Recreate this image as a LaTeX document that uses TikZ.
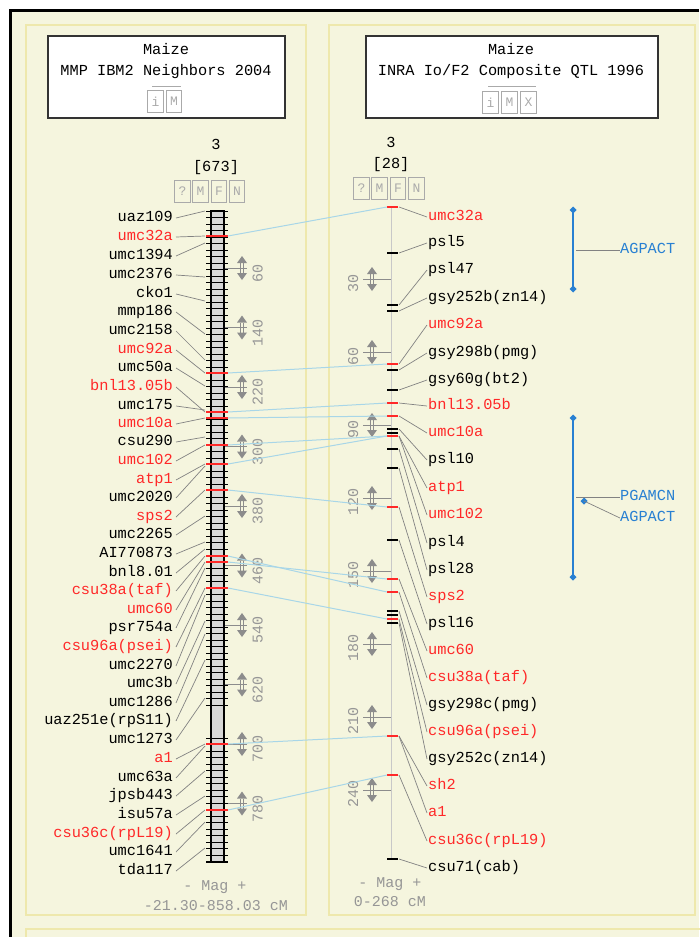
\documentclass[tikz,border=0pt]{standalone}
\usepackage{fontspec}
\setmainfont{Liberation Mono}
\definecolor{bg}{RGB}{245,245,222}
\definecolor{pborder}{RGB}{238,232,172}
\definecolor{leadgray}{RGB}{130,130,130}
\definecolor{connblue}{RGB}{168,214,232}
\definecolor{btngray}{RGB}{170,170,170}
\definecolor{sclgray}{RGB}{140,140,140}
\definecolor{scltext}{RGB}{150,150,150}
\definecolor{mkred}{RGB}{255,40,40}
\definecolor{qblue}{RGB}{40,128,210}
\definecolor{chromgray}{RGB}{215,215,215}
\definecolor{axisgray}{RGB}{200,200,200}
\begin{document}
\begin{tikzpicture}[x=1pt,y=-1pt,
  lbl/.style={font=\fontsize{15.3}{16}\selectfont, inner sep=0pt, text height=8pt, text depth=2pt},
  hdrtext/.style={font=\fontsize{15.3}{16}\selectfont, inner sep=0pt, text height=8pt, text depth=2pt},
  scl/.style={font=\fontsize{15}{16}\selectfont, text=scltext, inner sep=0pt, text height=8pt, text depth=2pt},
  lead/.style={draw=leadgray, line width=0.7pt},
  conn/.style={draw=connblue, line width=1pt},
  btn/.style={draw=btngray, text=btngray, line width=1pt, minimum width=15.5pt, minimum height=22pt, inner sep=0pt, font=\fontsize{13}{13}\selectfont},
  hdrbox/.style={draw=black!80, fill=white, line width=1.2pt, inner sep=0pt},
  panel/.style={draw=pborder, line width=1.5pt},
  magicon/.pic={
    \fill[sclgray] (-5,-5) -- (5,-5) -- (0,-12) -- cycle;
    \fill[sclgray] (-5,5) -- (5,5) -- (0,12) -- cycle;
    \draw[sclgray, line width=0.8pt] (-1.5,-5) -- (-1.5,5) (1.5,-5) -- (1.5,5);
  }
]
\useasboundingbox (0,0) rectangle (699,937);
\fill[white] (0,0) rectangle (699,937);
\fill[bg] (11,11) rectangle (699,937);
\draw[black, line width=3pt] (10.5,937) -- (10.5,10.5) -- (699,10.5);

% panels
\draw[panel] (26,25) rectangle (306,915);
\draw[panel] (329,25) rectangle (695,915);
\draw[panel] (26,929) rectangle (710,960);

% header boxes
\node[hdrbox, minimum width=237pt, minimum height=82pt] (hboxL) at (166.5,77) {};
\node[hdrtext] (hL1) at (166,51) {Maize};
\node[hdrtext] (hL2) at (166,72.5) {MMP IBM2 Neighbors 2004};
\draw[btngray, line width=1pt] (152,86) -- (181,86);
\node[btn] (bLi) at (155.5,101.5) {i};
\node[btn] (bLM) at (174,101.5) {M};

\node[hdrbox, minimum width=292pt, minimum height=82pt] (hboxR) at (512,77) {};
\node[hdrtext] (hR1) at (511,51) {Maize};
\node[hdrtext] (hR2) at (511,72.5) {INRA Io/F2 Composite QTL 1996};
\draw[btngray, line width=1pt] (488,86) -- (536,86);
\node[btn] (bRi) at (490.5,102.5) {i};
\node[btn] (bRM) at (509.5,102.5) {M};
\node[btn] (bRX) at (528.5,102.5) {X};

% chromosome titles
\node[hdrtext] (cL1) at (216,146) {3};
\node[hdrtext] (cL2) at (216,168.5) {[673]};
\node[btn] (cLq) at (182.5,191) {?};
\node[btn] (cLM) at (200.5,191) {M};
\node[btn] (cLF) at (219,191) {F};
\node[btn] (cLN) at (237,191) {N};

\node[hdrtext] (cR1) at (391,144) {3};
\node[hdrtext] (cR2) at (391,165.5) {[28]};
\node[btn] (cRq) at (361.5,188.5) {?};
\node[btn] (cRM) at (379.5,188.5) {M};
\node[btn] (cRF) at (398,188.5) {F};
\node[btn] (cRN) at (416.5,188.5) {N};

% left scale
\foreach \k/\v in {0/60,1/140,2/220,3/300,4/380,5/460,6/540,7/620,8/700,9/780} {
  \pgfmathsetmacro\yy{268+59.5*\k}
  \draw[sclgray, line width=1pt] (224,\yy) -- (247,\yy);
  \pic at (242,\yy) {magicon};
  \node[scl, rotate=90] at (259.5,\yy+5) {\v};
}

% right scale
\foreach \k/\v in {0/30,1/60,2/90,3/120,4/150,5/180,6/210,7/240} {
  \pgfmathsetmacro\yy{279+73*\k}
  \draw[sclgray, line width=1pt] (363,\yy) -- (391,\yy);
  \pic at (372,\yy) {magicon};
  \node[scl, rotate=90] at (355,\yy+4) {\v};
}

% left chromosome bar
\filldraw[fill=chromgray, draw=black, line width=1.3pt] (211,211) rectangle (224,862);
\foreach \yy in {211,217.5,...,705,738,744.5,...,862} {
  \draw[black, line width=1pt] (206,\yy) -- (228,\yy);
}
\draw[black, line width=1.3pt] (206,862) -- (228,862);
\foreach \yy in {236,373,412,418,445,464,490,556,562,588,744,810} {
  \draw[mkred, line width=1.5pt] (206,\yy) -- (228,\yy);
}

% right chromosome
\draw[axisgray, line width=1.5pt] (391.5,207) -- (391.5,860);
\foreach \yy in {253,305,311,370,390,429,433,449,468,540,611,615,623,859} {
  \draw[black, line width=1.3pt] (387,\yy) -- (398,\yy);
}
\foreach \yy in {207,364,403,416,436,507,579,592,619,736,775} {
  \draw[mkred, line width=1.3pt] (387,\yy) -- (398,\yy);
}

% connectors between maps
\foreach \i/\a/\b in {1/236/207,2/373/364,3/412/403,4/418/416,5/445/436,6/464/436,7/490/507,8/556/592,9/562/579,10/588/619,11/744/736,12/810/775} {
  \coordinate (CL\i) at (228,\a);
  \coordinate (CR\i) at (387,\b);
  \draw[conn] (CL\i) -- (CR\i);
}

% left labels
\foreach \i/\lab/\ly/\ty/\col in {
  1/uaz109/218/211/black,
  2/umc32a/237/236/mkred,
  3/umc1394/256/243/black,
  4/umc2376/275/277/black,
  5/cko1/294/301/black,
  6/mmp186/312/334/black,
  7/umc2158/331/360/black,
  8/umc92a/350/373/mkred,
  9/umc50a/368/386/black,
  10/bnl13.05b/387/412/mkred,
  11/umc175/406/410/black,
  12/umc10a/424/418/mkred,
  13/csu290/442/437/black,
  14/umc102/461/445/mkred,
  15/atp1/480/464/mkred,
  16/umc2020/498/466/black,
  17/sps2/517/490/mkred,
  18/umc2265/535/516/black,
  19/AI770873/554/542/black,
  20/bnl8.01/573/549/black,
  21/csu38a(taf)/591/556/mkred,
  22/umc60/610/562/mkred,
  23/psr754a/628/568/black,
  24/csu96a(psei)/647/588/mkred,
  25/umc2270/666/595/black,
  26/umc3b/684/621/black,
  27/umc1286/703/634/black,
  28/uaz251e(rpS11)/721/660/black,
  29/umc1273/740/698/black,
  30/a1/759/744/mkred,
  31/umc63a/778/746/black,
  32/jpsb443/796/771/black,
  33/isu57a/815/796/black,
  34/csu36c(rpL19)/834/810/mkred,
  35/umc1641/852/822/black,
  36/tda117/871/848/black} {
  \node[lbl, text=\col, anchor=east] (L\i) at (173,\ly) {\lab};
  \coordinate (LT\i) at (205,\ty);
  \draw[lead] ([xshift=3pt]L\i.east) -- (LT\i);
}

% right labels
\foreach \i/\lab/\ly/\ty/\col in {
  1/umc32a/217/207/mkred,
  2/psl5/243/253/black,
  3/psl47/270/305/black,
  4/gsy252b(zn14)/298/311/black,
  5/umc92a/325/364/mkred,
  6/gsy298b(pmg)/353/370/black,
  7/gsy60g(bt2)/380/390/black,
  8/bnl13.05b/406/403/mkred,
  9/umc10a/433/416/mkred,
  10/psl10/460/429/black,
  11/atp1/488/436/mkred,
  12/umc102/515/436/mkred,
  13/psl4/543/449/black,
  14/psl28/570/468/black,
  15/sps2/597/507/mkred,
  16/psl16/624/540/black,
  17/umc60/651/579/mkred,
  18/csu38a(taf)/678/592/mkred,
  19/gsy298c(pmg)/705/611/black,
  20/csu96a(psei)/732/619/mkred,
  21/gsy252c(zn14)/759/623/black,
  22/sh2/786/736/mkred,
  23/a1/813/736/mkred,
  24/csu36c(rpL19)/841/775/mkred,
  25/csu71(cab)/868/859/black} {
  \node[lbl, text=\col, anchor=west] (R\i) at (428,\ly) {\lab};
  \coordinate (RT\i) at (399,\ty);
  \draw[lead] (RT\i) -- ([xshift=-1pt]R\i.west);
}

% QTL
\draw[qblue, line width=2pt] (573,210) -- (573,289);
\fill[qblue] (573,206.5) -- (576.5,210) -- (573,213.5) -- (569.5,210) -- cycle;
\fill[qblue] (573,285.5) -- (576.5,289) -- (573,292.5) -- (569.5,289) -- cycle;
\node[lbl, text=qblue, anchor=west] (Q1) at (620,250) {AGPACT};
\coordinate (Q1s) at (576,250);
\draw[lead] (Q1s) -- (Q1.west);

\draw[qblue, line width=2pt] (573,418) -- (573,577);
\fill[qblue] (573,414.5) -- (576.5,418) -- (573,421.5) -- (569.5,418) -- cycle;
\fill[qblue] (573,573.5) -- (576.5,577) -- (573,580.5) -- (569.5,577) -- cycle;
\fill[qblue] (584,497.5) -- (587.5,501) -- (584,504.5) -- (580.5,501) -- cycle;
\node[lbl, text=qblue, anchor=west] (Q2) at (620,497) {PGAMCN};
\node[lbl, text=qblue, anchor=west] (Q3) at (620,518) {AGPACT};
\coordinate (Q2s) at (576,497);
\coordinate (Q3s) at (584,501);
\draw[lead] (Q2s) -- (Q2.west);
\draw[lead] (Q3s) -- (Q3.west);

% footers
\node[scl] (mL) at (215,887) {- Mag +};
\node[scl] (rL) at (216,907) {-21.30-858.03 cM};
\node[scl] (mR) at (390,884) {- Mag +};
\node[scl] (rR) at (390,903) {0-268 cM};
\end{tikzpicture}
\end{document}
